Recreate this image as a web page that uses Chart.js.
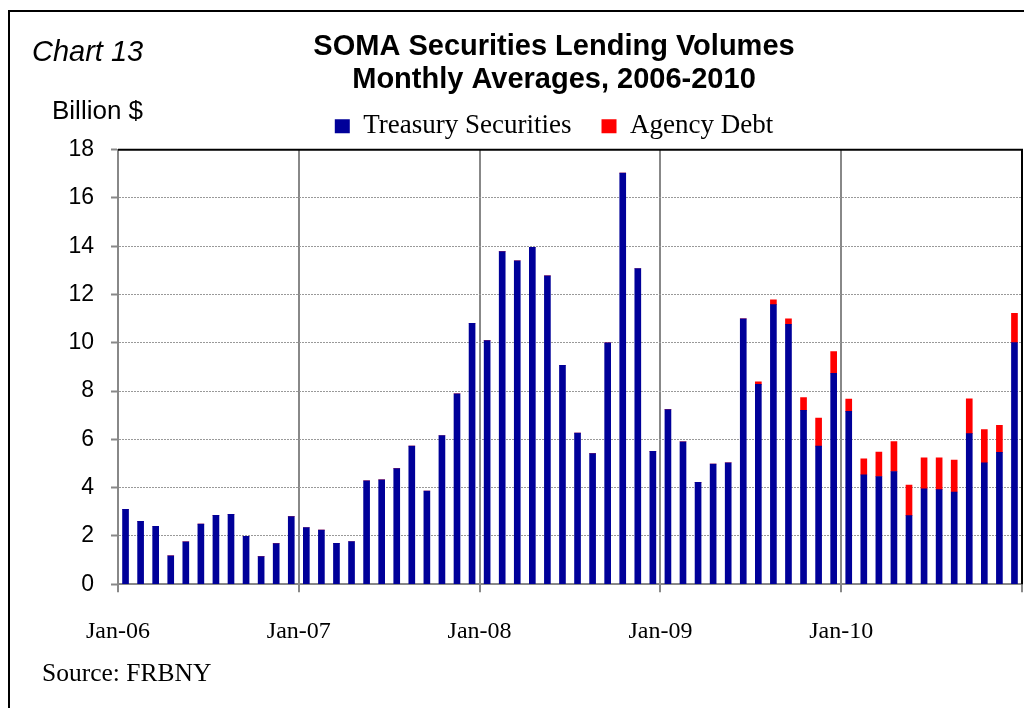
<!DOCTYPE html>
<html>
<head>
<meta charset="utf-8">
<title>SOMA Securities Lending Volumes</title>
<script src="https://cdn.jsdelivr.net/npm/chart.js@4.4.0/dist/chart.umd.min.js"></script>
<style>
  html, body { margin: 0; padding: 0; background: #fff; overflow: hidden; }
  #chart-area { display: block; }
</style>
</head>
<body>
<canvas id="chart-area" width="1024" height="708"></canvas>
<script>
// monthly averages, Jan-06 .. Dec-10 (billion $)
const treasury = [
  3.10, 2.60, 2.40, 1.18, 1.76, 2.49, 2.85, 2.89, 1.98, 1.14, 1.68, 2.80,
  2.35, 2.24, 1.69, 1.77, 4.28, 4.32, 4.79, 5.72, 3.86, 6.16, 7.89, 10.81,
  10.09, 13.78, 13.40, 13.96, 12.77, 9.07, 6.26, 5.41, 10.00, 17.03, 13.08, 5.50,
  7.23, 5.90, 4.22, 4.98, 5.03, 10.99, 8.28, 11.58, 10.77, 7.20, 5.72, 8.74,
  7.16, 4.53, 4.46, 4.67, 2.84, 3.95, 3.92, 3.82, 6.24, 5.03, 5.46, 10.01
];
const agency = [
  0, 0, 0, 0, 0, 0, 0, 0, 0, 0, 0, 0,
  0, 0, 0, 0, 0, 0, 0, 0, 0, 0, 0, 0,
  0, 0, 0, 0, 0, 0, 0, 0, 0, 0, 0, 0,
  0, 0, 0, 0, 0, 0, 0.10, 0.20, 0.22, 0.53, 1.16, 0.90,
  0.51, 0.66, 1.01, 1.24, 1.27, 1.28, 1.31, 1.32, 1.44, 1.38, 1.12, 1.21
];
// one label per January, last boundary (Jan-11) left blank
const yearLabels = ['Jan-06', 'Jan-07', 'Jan-08', 'Jan-09', 'Jan-10', ''];
const seriesNames = ['Treasury Securities', 'Agency Debt'];

// bar i sits in the middle of month slot i
const toPoints = (arr) => arr.map((v, i) => ({x: i + 0.5, y: v}));

const marcoPlugin = {
  id: 'marco',
  afterLayout(chart) {
    // y axis is squeezed to 32px so the title/legend centre lands right;
    // widen the label clip area so the numbers are not cut off
    chart.scales.y.left = 30;
  },
  afterDraw(chart) {
    const ctx = chart.ctx;
    const a = chart.chartArea;
    ctx.save();
    // outer frame (right and bottom fall outside the picture)
    ctx.strokeStyle = '#000';
    ctx.lineWidth = 2;
    ctx.beginPath();
    ctx.moveTo(1030, 11);
    ctx.lineTo(9, 11);
    ctx.lineTo(9, 715);
    ctx.stroke();
    // plot area top + right border
    ctx.beginPath();
    ctx.moveTo(a.left, a.top);
    ctx.lineTo(a.right, a.top);
    ctx.lineTo(a.right, a.bottom);
    ctx.stroke();

    ctx.fillStyle = '#000';
    ctx.textBaseline = 'middle';
    ctx.textAlign = 'left';
    ctx.font = 'italic 29px "Liberation Sans"';
    ctx.fillText('Chart 13', 32, 53);
    ctx.font = '26px "Liberation Sans"';
    ctx.fillText('Billion $', 52, 112);
    ctx.font = '25.5px "Liberation Serif"';
    ctx.fillText('Source: FRBNY', 42, 674);
    ctx.restore();
  }
};

const ctx = document.getElementById('chart-area').getContext('2d');
const chart = new Chart(ctx, {
  type: 'bar',
  data: {
    datasets: [{
      label: seriesNames[0],
      data: toPoints(treasury),
      backgroundColor: '#000099',
      borderWidth: 0,
      barThickness: 6
    }, {
      label: seriesNames[1],
      data: toPoints(agency),
      backgroundColor: '#FF0000',
      borderWidth: 0,
      barThickness: 6
    }]
  },
  options: {
    responsive: false,
    animation: false,
    layout: {
      padding: {left: 86, right: 2, top: 20, bottom: 37}
    },
    plugins: {
      title: {
        display: true,
        text: ['SOMA Securities Lending Volumes', 'Monthly Averages, 2006-2010'],
        color: '#000',
        font: {family: 'Liberation Sans', size: 29, weight: 'bold', lineHeight: 1.15},
        padding: {top: 10, bottom: -14}
      },
      legend: {
        display: true,
        position: 'top',
        labels: {
          color: '#000',
          font: {family: 'Liberation Serif', size: 27},
          boxWidth: 15,
          boxHeight: 14,
          padding: 30
        }
      },
      tooltip: {enabled: false}
    },
    scales: {
      x: {
        type: 'linear',
        stacked: true,
        offset: false,
        min: 0,
        max: 60,
        ticks: {
          stepSize: 12,
          autoSkip: false,
          maxRotation: 0,
          padding: 25,
          color: '#000',
          font: {family: 'Liberation Serif', size: 24},
          callback: (v) => yearLabels[v / 12]
        },
        grid: {
          offset: false,
          color: '#888',
          lineWidth: 2,
          tickLength: 8,
          tickColor: '#888',
          tickWidth: 2
        },
        border: {color: '#888', width: 2},
        afterFit(scale) {
          // the y axis already leaves room on the left, nothing needed on the right
          scale.paddingLeft = 0;
          scale.paddingRight = 0;
        }
      },
      y: {
        stacked: true,
        min: 0,
        max: 18,
        ticks: {
          stepSize: 2,
          padding: 17,
          color: '#000',
          font: {family: 'Liberation Sans', size: 23}
        },
        grid: {
          color: '#999',
          lineWidth: 1,
          tickLength: 7,
          tickColor: '#888',
          tickWidth: 2
        },
        border: {color: '#888', width: 2, dash: [2, 1]},
        afterFit(scale) {
          scale.width = 32;
        }
      }
    }
  },
  plugins: [marcoPlugin]
});
</script>
</body>
</html>
